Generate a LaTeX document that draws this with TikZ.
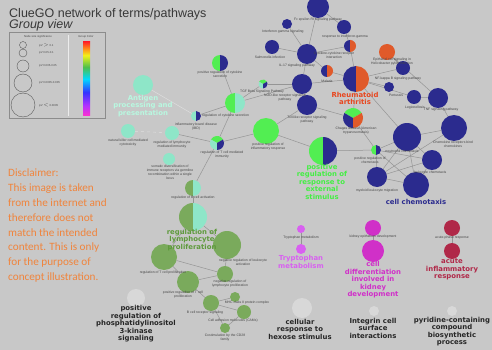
\documentclass[tikz,border=0pt]{standalone}
\usepackage{fontspec}
\setmainfont{Liberation Sans}
\newfontfamily\discfont{Carlito}
\newfontfamily\boldlab{DejaVu Sans}
\definecolor{bgc}{HTML}{C8C8C8}
\definecolor{navy}{HTML}{2B2B8E}
\definecolor{orng}{HTML}{E05A2A}
\definecolor{bgrn}{HTML}{52EE52}
\definecolor{aqua}{HTML}{8EE6C8}
\definecolor{olive}{HTML}{7AAA5C}
\definecolor{viol}{HTML}{D860F0}
\definecolor{magn}{HTML}{D030C8}
\definecolor{crim}{HTML}{B02848}
\definecolor{lnode}{HTML}{D8D8D8}
\definecolor{edgec}{HTML}{959595}
\definecolor{edgew}{HTML}{DEDEDE}
\definecolor{tinyc}{HTML}{454545}
\definecolor{titlec}{HTML}{383838}
\definecolor{discc}{HTML}{F0843C}
\definecolor{agtext}{HTML}{B8F8E0}
\definecolor{ratext}{HTML}{E8461E}
\definecolor{grtext}{HTML}{44EE44}
\definecolor{oltext}{HTML}{5E9A3C}
\pgfdeclareverticalshading{rbow}{100bp}{rgb(0bp)=(1,0.2,0.8); rgb(25bp)=(1,0.2,0.8); rgb(32bp)=(0.7,0.2,1); rgb(41bp)=(0.2,0.2,1); rgb(50bp)=(0,0.85,1); rgb(58bp)=(0.3,0.75,0.3); rgb(66bp)=(0.95,0.95,0.1); rgb(70bp)=(1,0.6,0.1); rgb(75bp)=(1,0.15,0.15); rgb(100bp)=(1,0.15,0.15)}
\pgfdeclarelayer{bglayer}
\pgfdeclarelayer{edgelayer}
\pgfsetlayers{bglayer,edgelayer,main}
\newcommand\mycirc[5]{\node[nd,minimum size=#4*2pt,fill=#5] (#1) at (#2,-#3) {};}
\newcommand\myhalf[6]{\node[nd,minimum size=#4*2pt] (#1) at (#2,-#3) {};
  \fill[#5] (#1.center) ++(90:#4pt) arc[start angle=90,end angle=270,radius=#4pt] -- cycle;
  \fill[#6] (#1.center) ++(-90:#4pt) arc[start angle=-90,end angle=90,radius=#4pt] -- cycle;}
\newcommand\mytri[7]{\node[nd,minimum size=#4*2pt] (#1) at (#2,-#3) {};
  \fill[#5] (#1.center) -- ++(30:#4pt) arc[start angle=30,end angle=150,radius=#4pt] -- cycle;
  \fill[#6] (#1.center) -- ++(150:#4pt) arc[start angle=150,end angle=270,radius=#4pt] -- cycle;
  \fill[#7] (#1.center) -- ++(270:#4pt) arc[start angle=270,end angle=390,radius=#4pt] -- cycle;}
\begin{document}
\begin{tikzpicture}[x=1pt,y=1pt,
  nd/.style={circle,inner sep=0pt,outer sep=0pt},
  edge/.style={draw=edgec,line width=0.5pt},
  wedge/.style={draw=edgew,line width=0.5pt},
  tl/.style={font=\fontsize{3.4}{4}\selectfont,text=tinyc,align=center,inner sep=0pt},
  bl/.style={font=\boldlab\bfseries\fontsize{6.9}{7.5}\selectfont,align=center,inner sep=0pt},
  legc/.style={circle,draw=black!65,line width=0.4pt,inner sep=0pt}]
\begin{pgfonlayer}{bglayer}
\fill[bgc] (0,0) rectangle (492,-350);
\end{pgfonlayer}
\useasboundingbox (0,0) rectangle (492,-350);
% title
\node[anchor=base west,inner sep=0,text=titlec,font=\fontsize{12.5}{14}\selectfont] (title) at (9,-17.5) {ClueGO network of terms/pathways};
\node[anchor=base west,inner sep=0,text=titlec,font=\itshape\fontsize{12.5}{14}\selectfont] (gview) at (9,-28.5) {Group view};
% legend
\node[draw=black!45,line width=0.6pt,minimum width=96pt,minimum height=86pt,anchor=north west,inner sep=0] (leg) at (9,-32) {};
\draw[white!85!gray,line width=1pt] (68,-35) -- (68,-116);
\node[tl,font=\fontsize{2.8}{3.2}\selectfont] (legt1) at (38,-36.5) {Node size significance};
\node[tl,font=\fontsize{2.8}{3.2}\selectfont] (legt2) at (86,-36.5) {Group Color};
\shade[shading=rbow] (83,-42) rectangle (90,-116);
\node[legc,minimum size=7pt] (lc1) at (23,-45) {};
\node[legc,minimum size=8pt] (lc2) at (23,-53) {};
\node[legc,minimum size=12pt] (lc3) at (23,-66) {};
\node[legc,minimum size=18pt] (lc4) at (23,-83) {};
\node[legc,minimum size=24pt] (lc5) at (23,-105) {};
\node[tl,anchor=west,font=\fontsize{2.8}{3.2}\selectfont] (ll1) at (39,-45) {pV $>$ 0.1};
\node[tl,anchor=west,font=\fontsize{2.8}{3.2}\selectfont] (ll2) at (39,-53) {pV 0.05-0.1};
\node[tl,anchor=west,font=\fontsize{2.8}{3.2}\selectfont] (ll3) at (39,-66) {pV 0.005-0.05};
\node[tl,anchor=west,font=\fontsize{2.8}{3.2}\selectfont] (ll4) at (39,-83) {pV 0.0005-0.005};
\node[tl,anchor=west,font=\fontsize{2.8}{3.2}\selectfont] (ll5) at (39,-105) {pV $<$ 0.0005};
% disclaimer
\node[anchor=north west,align=left,inner sep=0,font=\discfont\fontsize{11.2}{14.9}\selectfont,text=discc] (disc) at (8,-168.5) {Disclaimer:\\This image is taken\\from the internet and\\therefore does not\\match the intended\\content. This is only\\for the purpose of\\concept illustration.};
% top cluster
\mycirc{t1}{318}{7}{11}{navy}
\mycirc{t2}{287}{24}{5}{navy}
\mycirc{t3}{344}{27}{7}{navy}
\mycirc{t4}{272}{47}{7}{navy}
\myhalf{t5}{350}{46}{6}{navy}{orng}
\mycirc{t6}{387}{52}{8}{orng}
\mycirc{t7}{307}{54}{10}{navy}
\myhalf{t8}{327}{71}{6}{navy}{orng}
\myhalf{ra}{356}{79}{13}{navy}{orng}
\mycirc{t9}{403}{68}{7}{navy}
\mycirc{t10}{389}{87}{5}{navy}
\mycirc{t11}{302}{84}{10}{navy}
\mycirc{t12}{307}{105}{10}{navy}
\mycirc{t13}{414}{97}{7}{navy}
\mycirc{t14}{438}{98}{10}{navy}
\mytri{t15}{353}{118}{10}{bgrn}{navy}{orng}
\mytri{st}{263}{84}{4.5}{bgrn}{aqua}{navy}
% right cluster
\mycirc{r1}{454}{128}{13}{navy}
\mycirc{r2}{407}{137}{14}{navy}
\myhalf{r3}{376}{150}{5}{bgrn}{navy}
\mycirc{r4}{432}{160}{10}{navy}
\mycirc{r5}{377}{177}{10}{navy}
\mycirc{r6}{416}{185}{13}{navy}
% middle
\myhalf{prs}{323}{151}{14}{bgrn}{navy}
\mycirc{pir}{266}{131}{13}{bgrn}
\myhalf{a1}{220}{63}{8}{bgrn}{navy}
\myhalf{a2}{235}{103}{10}{bgrn}{aqua}
\myhalf{a3}{196}{116}{5}{aqua}{navy}
\mycirc{ag}{143}{85}{10}{aqua}
\mycirc{a4}{128}{131}{7}{aqua}
\mycirc{a5}{172}{133}{7}{aqua}
\mytri{a6}{217}{143}{7}{bgrn}{aqua}{navy}
\mycirc{a7}{169}{159}{6}{aqua}
\myhalf{b1}{193}{188}{8}{olive}{aqua}
\myhalf{lp}{193}{217}{14}{olive}{aqua}
% olive cluster
\mycirc{g1}{227}{245}{14}{olive}
\mycirc{g2}{164}{257}{13}{olive}
\mycirc{g3}{225}{274}{8}{olive}
\mycirc{g4}{188}{282}{11}{olive}
\mycirc{g5}{211}{303}{8}{olive}
\mycirc{g6}{235}{297}{5}{olive}
\mycirc{g7}{244}{312}{7}{olive}
\mycirc{g8}{225}{328}{5}{olive}
% magenta row
\mycirc{m1s}{301}{229}{4}{viol}
\mycirc{m1}{301}{249}{5}{viol}
\mycirc{m2s}{373}{228}{8}{magn}
\mycirc{m2}{373}{251}{11}{magn}
\mycirc{m3s}{452}{228}{8}{crim}
\mycirc{m3}{452}{251}{8}{crim}
% light singletons
\node[nd,minimum size=18pt,fill=lnode] (w1) at (136,-298) {};
\node[nd,minimum size=20pt,fill=lnode] (w2) at (302,-308) {};
\node[nd,minimum size=10pt,fill=lnode] (w3) at (374,-311) {};
\node[nd,minimum size=10pt,fill=lnode] (w4) at (452,-311) {};
% edges
\begin{pgfonlayer}{edgelayer}
\draw[edge] (t1) -- (t3); \draw[edge] (t1) -- (t7); \draw[edge] (t2) -- (t7);
\draw[edge] (t4) -- (t7); \draw[edge] (t7) -- (t5); \draw[edge] (t7) -- (t8);
\draw[edge] (t8) -- (ra); \draw[edge] (t5) -- (ra); \draw[edge] (t3) -- (t5);
\draw[edge] (t6) -- (t9); \draw[edge] (t9) -- (ra); \draw[edge] (ra) -- (t10);
\draw[edge] (ra) -- (t11); \draw[edge] (t11) -- (t12); \draw[edge] (t12) -- (t15);
\draw[edge] (t15) -- (ra); \draw[edge] (t13) -- (t14); \draw[edge] (t6) -- (t14);
\draw[edge] (ra) -- (t13); \draw[edge] (st) -- (t11); \draw[edge] (t11) -- (t7);
\draw[edge] (t14) -- (r1); \draw[edge] (t15) -- (r3); \draw[edge] (ra) -- (r2);
\draw[edge] (r3) -- (r2); \draw[edge] (r3) -- (r6); \draw[edge] (r3) -- (r5); \draw[edge] (r3) -- (r4);
\draw[edge] (r2) -- (r1); \draw[edge] (r2) -- (r4); \draw[edge] (r5) -- (r4);
\draw[edge] (r5) -- (r6); \draw[edge] (r4) -- (r6); \draw[edge] (r2) -- (r6); \draw[edge] (r5) -- (r1);
\draw[edge] (r5) -- (r2);
\draw[edge] (pir) -- (prs); \draw[edge] (prs) -- (r3); \draw[edge] (pir) -- (t12);
\draw[wedge] (ag) -- (a3); \draw[edge] (a3) -- (a2); \draw[edge] (a1) -- (a2);
\draw[edge] (a2) -- (st); \draw[edge] (a2) -- (a6); \draw[edge] (a6) -- (a5);
\draw[wedge,dashed] (a4) -- (a5); \draw[edge] (a6) -- (pir); \draw[edge] (a2) -- (t11);
\draw[edge] (a6) -- (b1); \draw[edge] (b1) -- (lp);
\draw[edge] (lp) -- (g1); \draw[edge] (lp) -- (g2);
\draw[edge] (g2) -- (g4); \draw[edge] (g2) -- (g3); \draw[edge] (g1) -- (g3);
\draw[edge] (g4) -- (g3); \draw[edge] (g5) -- (g6); \draw[edge] (g5) -- (g7);
\draw[edge] (g8) -- (g5); \draw[edge] (g8) -- (g7); \draw[edge] (g4) -- (g5);
\draw[edge] (m1s) -- (m1); \draw[edge] (m2s) -- (m2); \draw[edge] (m3s) -- (m3);
\end{pgfonlayer}
% tiny labels
\node[tl] (lt1) at (318,-20) {Fc epsilon RI signaling pathway};
\node[tl] (lt2) at (283,-32) {Interferon gamma signaling};
\node[tl] (lt3) at (345,-37) {response to interferon-gamma};
\node[tl] (lt4) at (270,-57) {Salmonella infection};
\node[tl] (lt7) at (334,-55) {Cytokine-cytokine receptor\\interaction};
\node[tl] (lt11) at (297,-66) {IL-17 signaling pathway};
\node[tl] (lt8) at (327,-81) {Malaria};
\node[tl] (lt6) at (392,-62) {Epithelial cell signaling in\\Helicobacter pylori infection};
\node[tl] (lra) at (398,-79) {NF-kappa B signaling pathway};
\node[tl] (lt10) at (396,-95) {Pertussis};
\node[tl] (lst) at (262,-92) {TGF Beta Signaling Pathway};
\node[tl] (lt11b) at (285,-98) {NOD-like receptor signaling\\pathway};
\node[tl] (lt12) at (307,-120) {Toll-like receptor signaling\\pathway};
\node[tl] (lt13) at (415,-108) {Legionellosis};
\node[tl] (lt14) at (441,-110) {TNF signaling pathway};
\node[tl] (lt15) at (356,-131) {Chagas disease (American\\trypanosomiasis)};
\node[tl] (la1) at (220,-74) {positive regulation of cytokine\\secretion};
\node[tl,anchor=west] (la3) at (202,-116) {regulation of cytokine secretion};
\node[tl] (la3b) at (196,-127) {inflammatory bowel disease\\(IBD)};
\node[tl] (la4) at (128,-143) {natural killer cell mediated\\cytotoxicity};
\node[tl] (la5) at (172,-145) {regulation of lymphocyte\\mediated immunity};
\node[tl] (la6) at (222,-155) {regulation of T cell mediated\\immunity};
\node[tl] (la7) at (170,-172) {somatic diversification of\\immune receptors via germline\\recombination within a single\\locus};
\node[tl] (lb1) at (193,-198) {regulation of B cell activation};
\node[tl] (lpir) at (268,-147) {positive regulation of\\inflammatory response};
\node[tl] (lr3) at (370,-160) {positive regulation of\\chemotaxis};
\node[tl] (lr2) at (402,-152) {neutrophil chemotaxis};
\node[tl] (lr1) at (453,-144) {Chemokine receptors bind\\chemokines};
\node[tl] (lr4) at (430,-173) {leukocyte chemotaxis};
\node[tl] (lr5) at (377,-191) {myeloid leukocyte migration};
\node[tl] (lg1) at (243,-262) {negative regulation of leukocyte\\activation};
\node[tl] (lg2) at (163,-273) {regulation of T cell proliferation};
\node[tl] (lg3) at (230,-284) {negative regulation of\\lymphocyte proliferation};
\node[tl] (lg4) at (183,-295) {positive regulation of T cell\\proliferation};
\node[tl] (lg6) at (247,-303) {MHC class II protein complex};
\node[tl] (lg5) at (205,-313) {B cell receptor signaling};
\node[tl] (lg7) at (233,-321) {Cell adhesion molecules (CAMs)};
\node[tl] (lg8) at (225,-338) {Costimulation by the CD28\\family};
\node[tl] (lm1) at (301,-238) {Tryptophan metabolism};
\node[tl] (lm2) at (373,-237) {kidney epithelium development};
\node[tl] (lm3) at (452,-238) {acute-phase response};
% bold group labels
\node[bl,text=agtext] (bag) at (143,-106) {Antigen\\processing and\\presentation};
\node[bl,text=ratext] (bra) at (355,-98.5) {Rheumatoid\\arthritis};
\node[bl,text=grtext] (bprs) at (322,-181.5) {positive\\regulation of\\response to\\external\\stimulus};
\node[bl,text=navy] (bcc) at (416,-202) {cell chemotaxis};
\node[bl,text=oltext] (blp) at (192,-240) {regulation of\\lymphocyte\\proliferation};
\node[bl,text=viol] (bm1) at (301,-262) {Tryptophan\\metabolism};
\node[bl,text=magn] (bm2) at (373,-280) {cell\\differentiation\\involved in\\kidney\\development};
\node[bl,text=crim] (bm3) at (452,-269.5) {acute\\inflammatory\\response};
\node[bl,text=black!85] (bw1) at (136,-324) {positive\\regulation of\\phosphatidylinositol\\3-kinase\\signaling};
\node[bl,text=black!85] (bw2) at (300,-329) {cellular\\response to\\hexose stimulus};
\node[bl,text=black!85] (bw3) at (373,-328) {Integrin cell\\surface\\interactions};
\node[bl,text=black!85] (bw4) at (452,-331.5) {pyridine-containing\\compound\\biosynthetic\\process};
\end{tikzpicture}
\end{document}
